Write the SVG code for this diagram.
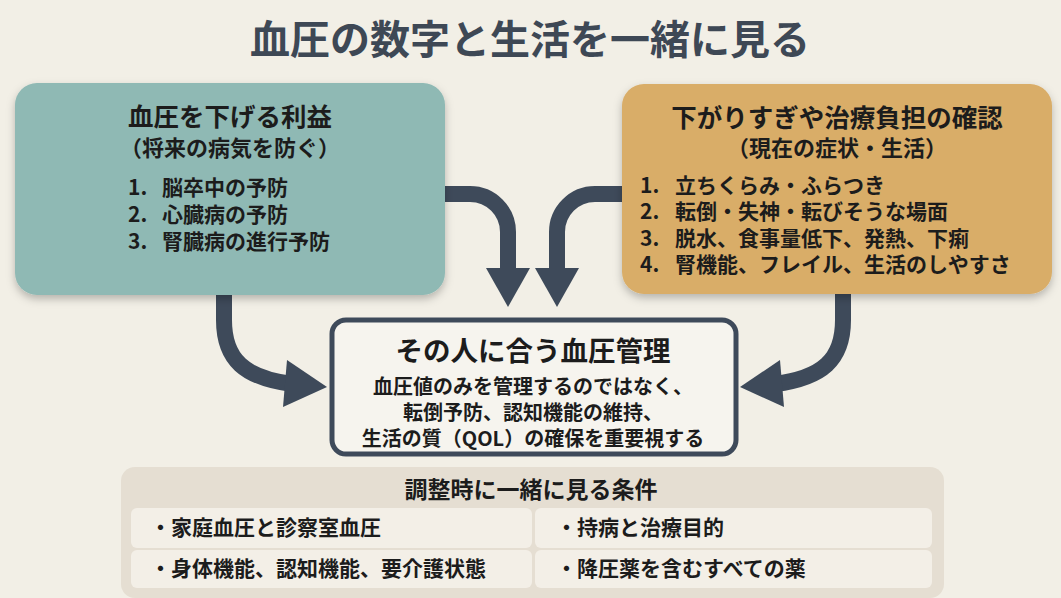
<svg xmlns="http://www.w3.org/2000/svg" width="1061" height="598" viewBox="0 0 1061 598">
<style>
text{font-family:"Noto Sans CJK JP","Noto Sans",sans-serif;font-weight:700;fill:#1c1c1c}
.title{font-size:40px;fill:#3e4855;text-anchor:middle}
.h{font-size:25.5px;text-anchor:middle}
.sub{font-size:22px;text-anchor:middle}
.item{font-size:21px}
.ct{font-size:27.5px;text-anchor:middle}
.cl{font-size:20px;text-anchor:middle}
.bt{font-size:23px;text-anchor:middle}
.cell{font-size:21px}
.shaft{fill:none;stroke:#3e4a5a;stroke-width:16}
.head{fill:#3e4a5a}
</style>
<defs>
<filter id="sh" x="-10%" y="-10%" width="120%" height="130%">
<feDropShadow dx="0" dy="4" stdDeviation="4" flood-color="#000" flood-opacity="0.25"/>
</filter>
</defs>
<rect width="1061" height="598" fill="#f2efe6"/>
<text class="title" x="530" y="54">血圧の数字と生活を一緒に見る</text>

<g id="connectors">
<path class="shaft" d="M440,194 H470 A38,38 0 0 1 508,232 V272"/>
<polygon class="head" points="486,268 530,268 508,307"/>
<path class="shaft" d="M627,194 H595 A38,38 0 0 0 557,232 V272"/>
<polygon class="head" points="535,268 579,268 557,307"/>
<path class="shaft" d="M224,290 V320 C224,360 245,378 292,384"/>
<polygon class="head" points="287,360 283,407 327,387"/>
<path class="shaft" d="M843,290 V320 C843,360 822,378 775,384"/>
<polygon class="head" points="780,360 784,407 740,387"/>
</g>

<g id="benefit">
<rect x="15" y="83" width="430" height="212" rx="22" fill="#8fb9b4" filter="url(#sh)"/>
<text class="h" x="230" y="126">血圧を下げる利益</text>
<text class="sub" x="230" y="156">（将来の病気を防ぐ）</text>
<text class="item"><tspan x="128" y="195">1.</tspan><tspan x="162" y="195">脳卒中の予防</tspan><tspan x="128" y="222">2.</tspan><tspan x="162" y="222">心臓病の予防</tspan><tspan x="128" y="249">3.</tspan><tspan x="162" y="249">腎臓病の進行予防</tspan></text>
</g>

<g id="check">
<rect x="622" y="84" width="430" height="210" rx="22" fill="#d9ad68" filter="url(#sh)"/>
<text class="h" x="837" y="127">下がりすぎや治療負担の確認</text>
<text class="sub" x="837" y="156">（現在の症状・生活）</text>
<text class="item"><tspan x="640" y="193">1.</tspan><tspan x="675" y="193">立ちくらみ・ふらつき</tspan><tspan x="640" y="219">2.</tspan><tspan x="675" y="219">転倒・失神・転びそうな場面</tspan><tspan x="640" y="246">3.</tspan><tspan x="675" y="246">脱水、食事量低下、発熱、下痢</tspan><tspan x="640" y="272">4.</tspan><tspan x="675" y="272">腎機能、フレイル、生活のしやすさ</tspan></text>
</g>

<g id="center">
<rect x="332" y="320" width="404" height="134" rx="14" fill="#f6f4ee" stroke="#3e4a5a" stroke-width="5"/>
<text class="ct" x="533" y="361">その人に合う血圧管理</text>
<text class="cl"><tspan x="533" y="394">血圧値のみを管理するのではなく、</tspan><tspan x="533" y="420">転倒予防、認知機能の維持、</tspan><tspan x="533" y="446">生活の質（QOL）の確保を重要視する</tspan></text>
</g>

<g id="conditions">
<rect x="121" y="467" width="823" height="131" rx="14" fill="#e5ded2"/>
<text class="bt" x="531" y="498">調整時に一緒に見る条件</text>
<rect x="131" y="508" width="401" height="40" rx="6" fill="#f3efe7"/>
<rect x="535" y="508" width="397" height="40" rx="6" fill="#f3efe7"/>
<rect x="131" y="550" width="401" height="38" rx="6" fill="#f3efe7"/>
<rect x="535" y="550" width="397" height="38" rx="6" fill="#f3efe7"/>
<text class="cell" x="150" y="535">・家庭血圧と診察室血圧</text>
<text class="cell" x="556" y="535">・持病と治療目的</text>
<text class="cell" x="150" y="576">・身体機能、認知機能、要介護状態</text>
<text class="cell" x="556" y="576">・降圧薬を含むすべての薬</text>
</g>
</svg>
